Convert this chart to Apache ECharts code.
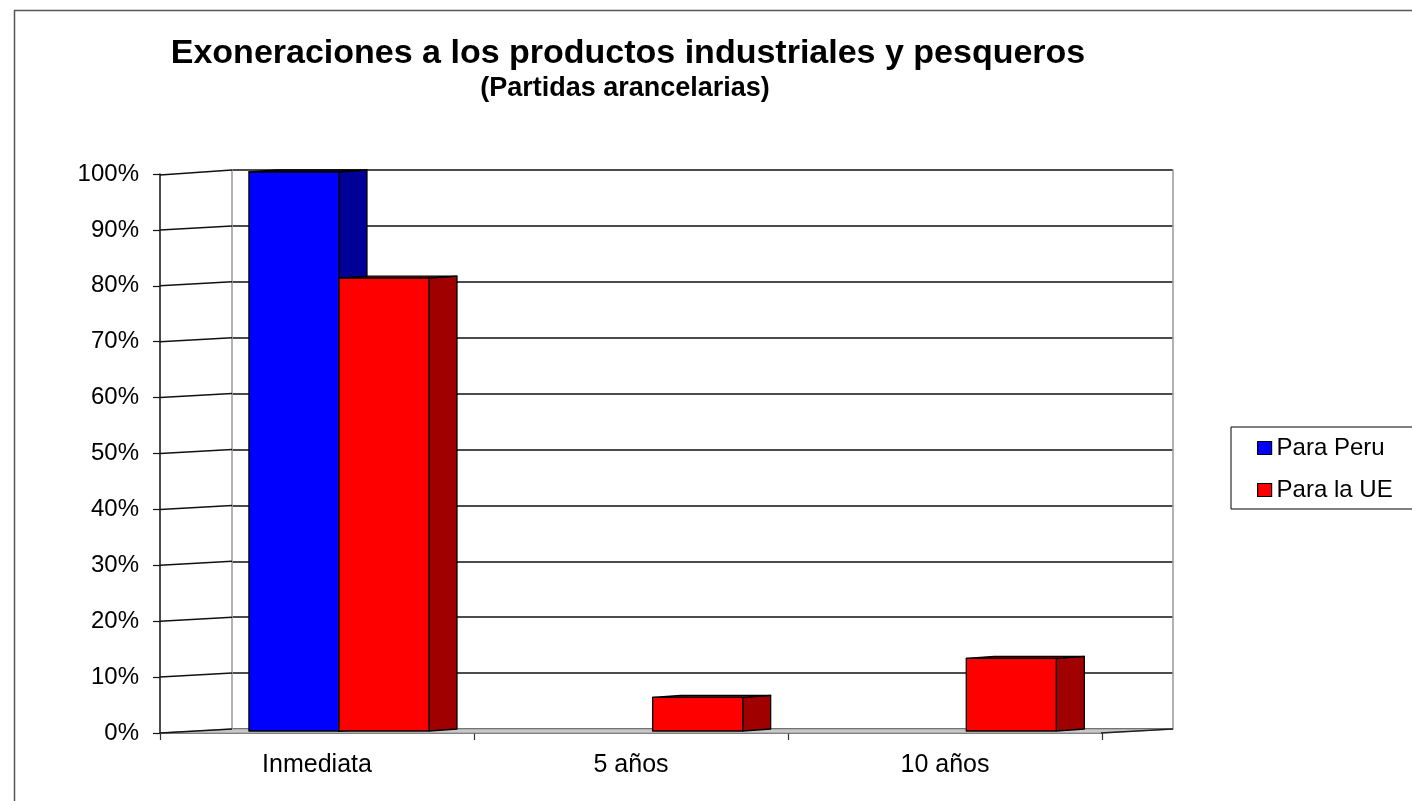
<!DOCTYPE html>
<html>
<head>
<meta charset="utf-8">
<script src="https://cdn.jsdelivr.net/npm/echarts@6/dist/echarts.min.js"></script>
<style>html,body{margin:0;padding:0;background:#fff;}#c{width:1412px;height:801px;}</style>
</head>
<body>
<div id="c"></div>
<script>
const categories = ['Inmediata', '5 años', '10 años'];
const paraPeru = [100, 0, 0];
const paraUE = [81, 6, 13];
const yTickValues = [0, 10, 20, 30, 40, 50, 60, 70, 80, 90, 100];
const seriesNames = ['Para Peru', 'Para la UE'];

const FONT = '"Liberation Sans", Arial, sans-serif';
const DX = 72, DY = 4;          // depth of chart floor (front axis offset)
const BDX = 28, BDY = 2;        // depth of a bar

const chart = echarts.init(document.getElementById('c'), null, {renderer: 'canvas'});

function barRenderer(leftFrac, front, side) {
  return function (params, api) {
    const cat = api.value(0), v = api.value(1);
    if (!(v > 0)) return null;
    const top = api.coord([cat, v]);
    const base = api.coord([cat, 0]);
    const bw = api.size([1, 0])[0];
    const w = bw * 0.287;
    const L = top[0] + bw * leftFrac;
    const R = L + w;
    const ty = top[1] + BDY, by = base[1] + BDY;
    const st = {stroke: '#000', lineWidth: 1.3, lineJoin: 'round'};
    return {
      type: 'group',
      children: [
        {type: 'polygon', shape: {points: [[R, ty], [R + BDX, ty - BDY], [R + BDX, by - BDY], [R, by]]}, style: Object.assign({fill: side}, st)},
        {type: 'polygon', shape: {points: [[L, ty], [L + BDX, ty - BDY], [R + BDX, ty - BDY], [R, ty]]}, style: Object.assign({fill: side}, st)},
        {type: 'rect', shape: {x: L, y: ty, width: w, height: by - ty}, style: Object.assign({fill: front}, st)}
      ]
    };
  };
}

const option = {
  backgroundColor: '#fff',
  animation: false,
  textStyle: {fontFamily: FONT},
  title: [
    {text: 'Exoneraciones a los productos industriales y pesqueros', left: 623, top: 32, textAlign: 'center',
     textStyle: {fontFamily: FONT, fontSize: 34, fontWeight: 'bold', color: '#000'}},
    {text: '(Partidas arancelarias)', left: 620, top: 70, textAlign: 'center',
     textStyle: {fontFamily: FONT, fontSize: 27, fontWeight: 'bold', color: '#000'}}
  ],
  graphic: [
    {type: 'rect', left: 12, top: 8, silent: true, z: -10,
     shape: {width: 1600, height: 1000}, style: {fill: 'none', stroke: '#555', lineWidth: 1.5}}
  ],
  legend: {
    orient: 'vertical', left: 1231, top: 427,
    padding: [9, 40, 7, 26], itemGap: 18,
    itemWidth: 14, itemHeight: 13, icon: 'rect',
    borderColor: '#000', borderWidth: 1,
    textStyle: {fontFamily: FONT, fontSize: 24, color: '#000'},
    data: [
      {name: seriesNames[0], itemStyle: {color: '#0000ff', borderColor: '#000', borderWidth: 1.2}},
      {name: seriesNames[1], itemStyle: {color: '#ff0000', borderColor: '#000', borderWidth: 1.2}}
    ]
  },
  grid: [
    {left: 232, top: 170, width: 941, height: 559},
    {left: 232 - DX, top: 170 + DY, width: 942, height: 559}
  ],
  xAxis: [
    {type: 'category', gridIndex: 0, data: categories, boundaryGap: true,
     axisLine: {show: false}, axisTick: {show: false}, axisLabel: {show: false}, splitLine: {show: false}},
    {type: 'category', gridIndex: 1, data: categories, boundaryGap: true,
     axisLine: {show: true, lineStyle: {color: '#333', width: 1.5}},
     axisTick: {show: true, length: 7, lineStyle: {color: '#333', width: 1.2}},
     axisLabel: {show: true, margin: 20, fontSize: 25, fontFamily: FONT, color: '#000'},
     splitLine: {show: false}}
  ],
  yAxis: [
    {type: 'value', gridIndex: 0, min: 0, max: 100, interval: 10,
     axisLine: {show: true, lineStyle: {color: '#999', width: 1.5}},
     axisTick: {show: false}, axisLabel: {show: false},
     splitLine: {show: true, lineStyle: {color: '#111', width: 1.6}}},
    {type: 'value', gridIndex: 0, position: 'right', min: 0, max: 100, interval: 10,
     axisLine: {show: true, lineStyle: {color: '#999', width: 1.5}},
     axisTick: {show: false}, axisLabel: {show: false}, splitLine: {show: false}},
    {type: 'value', gridIndex: 1, min: 0, max: 100, interval: 10,
     axisLine: {show: true, lineStyle: {color: '#111', width: 1.5}},
     axisTick: {show: true, length: 7, lineStyle: {color: '#111', width: 1.2}},
     axisLabel: {show: true, margin: 21, fontSize: 24, fontFamily: FONT, color: '#000', formatter: '{value}%'},
     splitLine: {show: false}}
  ],
  series: [
    {
      type: 'custom', name: 'floor', xAxisIndex: 0, yAxisIndex: 0, silent: true, z: 1,
      data: [[0, 0]],
      renderItem: function (params, api) {
        const cs = params.coordSys;
        const base = api.coord([0, 0])[1];
        const xl = cs.x, xr = cs.x + cs.width;
        return {type: 'group', children: [
          {type: 'polygon', shape: {points: [[xl, base], [xr, base], [xr - DX, base + DY], [xl - DX, base + DY]]},
           style: {fill: '#c8c8c8', stroke: '#999', lineWidth: 1}},
          {type: 'line', shape: {x1: xr, y1: base, x2: xr - DX, y2: base + DY}, style: {stroke: '#222', lineWidth: 1.5}}
        ]};
      }
    },
    {
      type: 'custom', name: 'connectors', xAxisIndex: 0, yAxisIndex: 0, silent: true, z: 2,
      data: yTickValues.map(v => [0, v]),
      renderItem: function (params, api) {
        const cs = params.coordSys;
        const y = api.coord([0, api.value(1)])[1];
        return {type: 'line', shape: {x1: cs.x, y1: y, x2: cs.x - DX, y2: y + DY + (api.value(1) === 100 ? 1 : 0)},
                style: {stroke: '#111', lineWidth: 1.5}};
      }
    },
    {
      type: 'custom', name: seriesNames[0], xAxisIndex: 0, yAxisIndex: 0, z: 3,
      itemStyle: {color: '#0000ff', borderColor: '#000', borderWidth: 1},
      data: paraPeru.map((v, i) => [i, v]),
      renderItem: barRenderer(-0.446, '#0000ff', '#000099')
    },
    {
      type: 'custom', name: seriesNames[1], xAxisIndex: 0, yAxisIndex: 0, z: 3,
      itemStyle: {color: '#ff0000', borderColor: '#000', borderWidth: 1},
      data: paraUE.map((v, i) => [i, v]),
      renderItem: barRenderer(-0.159, '#ff0000', '#a00000')
    }
  ]
};
chart.setOption(option);
</script>
</body>
</html>
